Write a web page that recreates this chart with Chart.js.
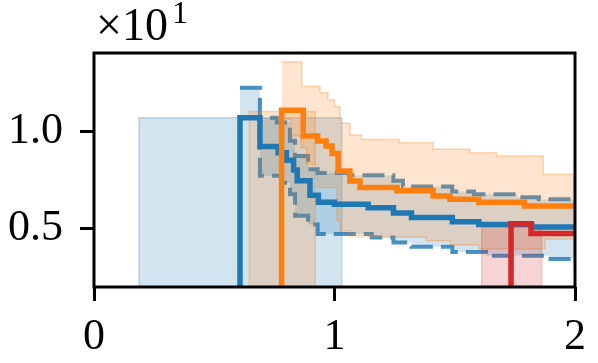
<!DOCTYPE html>
<html>
<head>
<meta charset="utf-8">
<script src="https://cdn.jsdelivr.net/npm/chart.js@4.4.0/dist/chart.umd.min.js"></script>
<style>
  html, body { margin: 0; padding: 0; background: #fff; }
  #wrap { width: 598px; height: 363px; position: relative; }
</style>
</head>
<body>
<div id="wrap"><canvas id="chart"></canvas></div>
<script>
// ─── Data (values in units of 10^1) ─────────────────
const X_TICKS = [0, 1, 2];
const Y_TICKS = [0.5, 1.0];
const X_MIN = 0, X_MAX = 2;
const Y_MIN = 0.2, Y_MAX = 1.4;
const FLOOR = 0;   // below the visible range, used to start steps from the bottom

// step edges (n+1) and the level held between them (n)
const blueLineX = [0.607, 0.69, 0.766, 0.80, 0.83, 0.845, 0.898, 0.933, 1.0, 1.14, 1.245, 1.32, 1.49, 1.6, 1.82, 2.0];
const blueLineY = [1.068, 0.92, 0.889, 0.85, 0.80, 0.745, 0.67, 0.635, 0.625, 0.607, 0.58, 0.556, 0.534, 0.52, 0.508];

const orangeLineX = [0.78, 0.87, 0.93, 0.965, 0.99, 1.015, 1.064, 1.106, 1.26, 1.41, 1.48, 1.6, 1.79, 2.0];
const orangeLineY = [1.106, 0.974, 0.949, 0.923, 0.885, 0.795, 0.744, 0.71, 0.693, 0.667, 0.65, 0.635, 0.616];

const redLineX = [1.734, 1.817, 2.0];
const redLineY = [0.525, 0.474];

const blueUpperX = [0.607, 0.69, 0.76, 0.815, 0.836, 0.89, 0.93, 1.06, 1.245, 1.285, 1.49, 1.58, 1.76, 1.85, 2.0];
const blueUpperY = [1.222, 1.068, 1.043, 0.95, 0.872, 0.804, 0.785, 0.773, 0.745, 0.715, 0.69, 0.676, 0.66, 0.65];
const blueLowerX = [0.607, 0.69, 0.78, 0.815, 0.836, 0.89, 0.93, 1.155, 1.245, 1.32, 1.49, 1.63, 1.89, 2.0];
const blueLowerY = [1.068, 0.77, 0.735, 0.676, 0.565, 0.52, 0.472, 0.454, 0.428, 0.406, 0.38, 0.36, 0.343];

const orangeUpperX = [0.78, 0.864, 0.94, 0.973, 1.0, 1.023, 1.064, 1.113, 1.27, 1.41, 1.563, 1.674, 1.868, 2.0];
const orangeUpperY = [1.355, 1.23, 1.196, 1.16, 1.125, 1.04, 0.98, 0.957, 0.94, 0.906, 0.889, 0.872, 0.778];
const orangeLowerX = [0.78, 0.82, 0.86, 0.885, 0.93, 1.01, 1.023, 1.06, 1.14, 1.38, 1.48, 1.60, 1.875, 2.0];
const orangeLowerY = [1.06, 0.974, 0.915, 0.83, 0.71, 0.54, 0.488, 0.462, 0.455, 0.437, 0.416, 0.395, 0.445];

// early blocks that reach down to the axis
const blueBlockX = [0.187, 1.03];
const blueBlockY = [1.068];
const orangeBlockX = [0.646, 0.92];
const orangeBlockY = [1.10];
const redBlockX = [1.612, 1.861];
const redBlockY = [0.51];

// ─── Style ───────────────────────────────────────────
const BLUE = [31, 119, 180];
const ORANGE = [255, 127, 14];
const RED = [214, 39, 40];
const rgba = (c, a) => `rgba(${c[0]},${c[1]},${c[2]},${a})`;
const FONT = 'Liberation Serif';

// build step points: level ys[i] held from xs[i] to xs[i+1]
function steps(xs, ys, fromFloor, toFloor) {
  const pts = [];
  if (fromFloor) pts.push({ x: xs[0], y: FLOOR });
  ys.forEach((v, i) => pts.push({ x: xs[i], y: v }));
  pts.push({ x: xs[xs.length - 1], y: toFloor ? FLOOR : ys[ys.length - 1] });
  return pts;
}

function lineSet(data, color, width, extra) {
  return Object.assign({
    data: data,
    borderColor: color,
    borderWidth: width,
    backgroundColor: 'transparent',
    fill: false,
    stepped: 'before',   // horizontal first, like a "post" step
    pointRadius: 0,
    tension: 0,
    clip: 0,
    borderJoinStyle: 'miter',
    borderCapStyle: 'butt'
  }, extra || {});
}

const datasets = [
  lineSet(steps(blueBlockX, blueBlockY, true, true), rgba(BLUE, 0.25), 1.5,
    { fill: 'start', backgroundColor: rgba(BLUE, 0.2) }),
  lineSet(steps(blueUpperX, blueUpperY), rgba(BLUE, 0.8), 4,
    { fill: '+1', backgroundColor: rgba(BLUE, 0.2), borderDash: [22, 8] }),
  lineSet(steps(blueLowerX, blueLowerY), rgba(BLUE, 0.8), 4,
    { borderDash: [22, 8] }),
  lineSet(steps(orangeBlockX, orangeBlockY, true, true), rgba(ORANGE, 0.3), 1.5,
    { fill: 'start', backgroundColor: rgba(ORANGE, 0.2) }),
  lineSet(steps(orangeUpperX, orangeUpperY), rgba(ORANGE, 0.3), 1.5,
    { fill: '+1', backgroundColor: rgba(ORANGE, 0.2) }),
  lineSet(steps(orangeLowerX, orangeLowerY), rgba(ORANGE, 0.3), 1.5),
  lineSet(steps(redBlockX, redBlockY, true, true), rgba(RED, 0.25), 1.5,
    { fill: 'start', backgroundColor: rgba(RED, 0.2) }),
  lineSet(steps(blueLineX, blueLineY, true), rgba(BLUE, 1), 5.5),
  lineSet(steps(orangeLineX, orangeLineY, true), rgba(ORANGE, 1), 5.5),
  lineSet(steps(redLineX, redLineY, true), rgba(RED, 1), 5.5)
];
// first in the list is painted first
datasets.forEach((ds, i) => { ds.order = 100 - i; });

// ─── Frame and offset label ─────────────────────────
const framePlugin = {
  id: 'frame',
  afterDatasetsDraw(chart) {
    const { ctx, chartArea: a } = chart;
    ctx.save();
    ctx.strokeStyle = '#000';
    ctx.lineWidth = 3;
    ctx.strokeRect(a.left, a.top, a.right - a.left, a.bottom - a.top);
    ctx.restore();
  },
  afterDraw(chart) {
    const { ctx, chartArea: a } = chart;
    ctx.save();
    ctx.fillStyle = '#000';
    ctx.textBaseline = 'alphabetic';
    ctx.textAlign = 'left';
    ctx.font = `46px ${FONT}`;
    const base = '\u00d710';
    ctx.fillText(base, a.left + 2, 40);
    const w = ctx.measureText(base).width;
    ctx.font = `32px ${FONT}`;
    ctx.fillText('1', a.left + 2 + w + 4, 23);
    ctx.restore();
  }
};

const tickFont = { family: FONT, size: 44 };

new Chart(document.getElementById('chart'), {
  type: 'line',
  data: { datasets: datasets },
  options: {
    responsive: true,
    maintainAspectRatio: false,
    animation: false,
    events: [],
    layout: { padding: { top: 53, right: 23, left: 0, bottom: 0 } },
    plugins: { legend: { display: false }, tooltip: { enabled: false } },
    scales: {
      x: {
        type: 'linear',
        min: X_MIN,
        max: X_MAX,
        afterBuildTicks: (s) => { s.ticks = X_TICKS.map(v => ({ value: v })); },
        afterFit: (s) => { s.height = 76; },
        border: { display: false },
        grid: { drawOnChartArea: false, drawTicks: true, tickLength: 14, tickWidth: 3, tickColor: '#000', color: '#000' },
        ticks: { color: '#000', font: tickFont, padding: 10, maxRotation: 0, autoSkip: false,
          callback: (v) => String(v) }
      },
      y: {
        type: 'linear',
        min: Y_MIN,
        max: Y_MAX,
        afterBuildTicks: (s) => { s.ticks = Y_TICKS.map(v => ({ value: v })); },
        afterFit: (s) => { s.width = 94; },
        border: { display: false },
        grid: { drawOnChartArea: false, drawTicks: true, tickLength: 14, tickWidth: 3, tickColor: '#000', color: '#000' },
        ticks: { color: '#000', font: tickFont, padding: 17, autoSkip: false,
          callback: (v) => Number(v).toFixed(1) }
      }
    }
  },
  plugins: [framePlugin]
});
</script>
</body>
</html>
